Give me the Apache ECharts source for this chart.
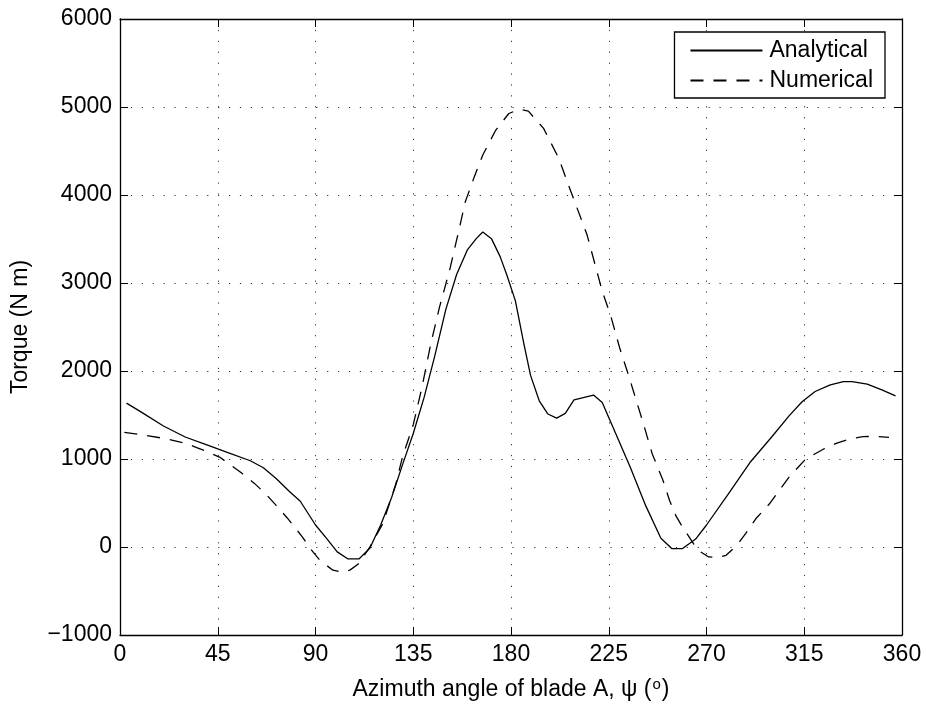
<!DOCTYPE html>
<html>
<head>
<meta charset="utf-8">
<script src="https://cdn.jsdelivr.net/npm/echarts@6/dist/echarts.min.js"></script>
<style>html,body{margin:0;padding:0;background:#fff;}#chart{width:926px;height:709px;}</style>
</head>
<body>
<div id="chart"></div>
<script>
var xTicks = [0, 45, 90, 135, 180, 225, 270, 315, 360];
var yTicks = [-1000, 0, 1000, 2000, 3000, 4000, 5000, 6000];

var analyticalX = [3,10,20,30,40,45,50,60,66,72,78,83,90,95,100,105,110,115,120,125,130,135,140,145,150,155,160,164,167,171,175,178,182,186,189,193,197,201,205,209,218,222,227,235,242,249,254,259,265,270,280,290,300,308,314,320,327,333,337,344,351,357];
var analyticalY = [1635,1530,1375,1250,1160,1114,1070,980,900,775,630,520,250,100,-55,-136,-136,-15,250,560,930,1290,1700,2180,2700,3100,3380,3504,3580,3504,3300,3096,2800,2300,1950,1661,1511,1465,1518,1673,1726,1642,1359,900,470,100,-18,-18,90,250,600,960,1250,1490,1650,1767,1843,1880,1880,1850,1783,1718];

var numericalX = [2,10,20,30,35,40,46,51,56,62,67,72,77,84,88,92,98,103,106,110,115,121,127,130,135,139,143,147,152,156,159,163,167,173,179,184,188,195,202,207,215,222,226,230,234,241,245,250,253,256,259,264,267,271,275,279,284,288,293,299,304,308,315,320,324,330,336,342,348,354];
var numericalY = [1302,1275,1235,1180,1133,1085,1019,930,840,720,605,470,330,113,-30,-151,-264,-290,-260,-188,0,265,718,1019,1390,1812,2300,2718,3171,3600,3926,4200,4455,4738,4926,4976,4953,4757,4417,4077,3549,2907,2620,2265,1960,1397,1060,755,529,350,226,38,-50,-113,-120,-94,20,151,330,491,660,793,982,1060,1114,1180,1228,1254,1258,1246];

function pairs(xs, ys) { return xs.map(function (x, i) { return [x, ys[i]]; }); }

var font = 'Liberation Sans, Arial, Helvetica, sans-serif';
var FS = 23;
var chart = echarts.init(document.getElementById('chart'), null, {renderer: 'canvas'});

var gridLine = {show: true, lineStyle: {color: '#333', type: [1.2, 9.7], width: 1}};
var tick = {show: true, inside: true, length: 8, lineStyle: {color: '#000', width: 1}};
var axLine = {show: true, onZero: false, lineStyle: {color: '#000', width: 1.3}};
var option = {
  backgroundColor: '#fff',
  animation: false,
  grid: {left: 120, top: 19, right: 24, bottom: 74, containLabel: false},
  legend: {
    right: 41, top: 32,
    orient: 'vertical', align: 'left',
    itemWidth: 72, itemHeight: 23, itemGap: 7,
    padding: [7, 12, 6, 15],
    borderColor: '#000', borderWidth: 1.3, borderRadius: 0,
    backgroundColor: '#fff',
    itemStyle: {opacity: 0, borderWidth: 0},
    textStyle: {fontFamily: font, fontSize: FS, color: '#000', padding: [0, 0, 0, 2]},
    data: ['Analytical', 'Numerical']
  },
  xAxis: [{
    type: 'value', min: xTicks[0], max: xTicks[xTicks.length - 1], interval: 45,
    axisLine: axLine, axisTick: tick,
    axisLabel: {fontFamily: font, fontSize: FS, color: '#000', margin: 8},
    splitLine: gridLine,
    name: '{t|Azimuth angle of blade A, ψ (}{s|o}{t|)}',
    nameLocation: 'middle', nameGap: 42,
    nameTextStyle: {rich: {t: {fontFamily: font, fontSize: FS, color: '#000'}, s: {fontFamily: font, fontSize: 15, color: '#000', verticalAlign: 'top', padding: [0, 1, 10, 1]}}}
  }, {
    type: 'value', position: 'top', min: xTicks[0], max: xTicks[xTicks.length - 1], interval: 45,
    axisLine: axLine, axisTick: tick,
    axisLabel: {show: false}, splitLine: {show: false}
  }],
  yAxis: [{
    type: 'value', min: yTicks[0], max: yTicks[yTicks.length - 1], interval: 1000,
    axisLine: axLine, axisTick: tick,
    axisLabel: {fontFamily: font, fontSize: FS, color: '#000', margin: 8,
      formatter: function (v) { return v < 0 ? '\u2212' + Math.abs(v) : String(v); }},
    splitLine: gridLine,
    name: 'Torque (N m)', nameLocation: 'middle', nameGap: 88,
    nameTextStyle: {fontFamily: font, fontSize: FS, color: '#000'}
  }, {
    type: 'value', position: 'right', min: yTicks[0], max: yTicks[yTicks.length - 1], interval: 1000,
    axisLine: axLine, axisTick: tick,
    axisLabel: {show: false}, splitLine: {show: false}
  }],
  series: [{
    name: 'Analytical', type: 'line', data: pairs(analyticalX, analyticalY),
    showSymbol: false, symbol: 'none', smooth: false,
    lineStyle: {color: '#000', width: 1.3, type: 'solid'}, itemStyle: {color: '#000'}
  }, {
    name: 'Numerical', type: 'line', data: pairs(numericalX, numericalY),
    showSymbol: false, symbol: 'none', smooth: false,
    lineStyle: {color: '#000', width: 1.3, type: [13, 10]}, itemStyle: {color: '#000'}
  }]
};
chart.setOption(option);
</script>
</body>
</html>
